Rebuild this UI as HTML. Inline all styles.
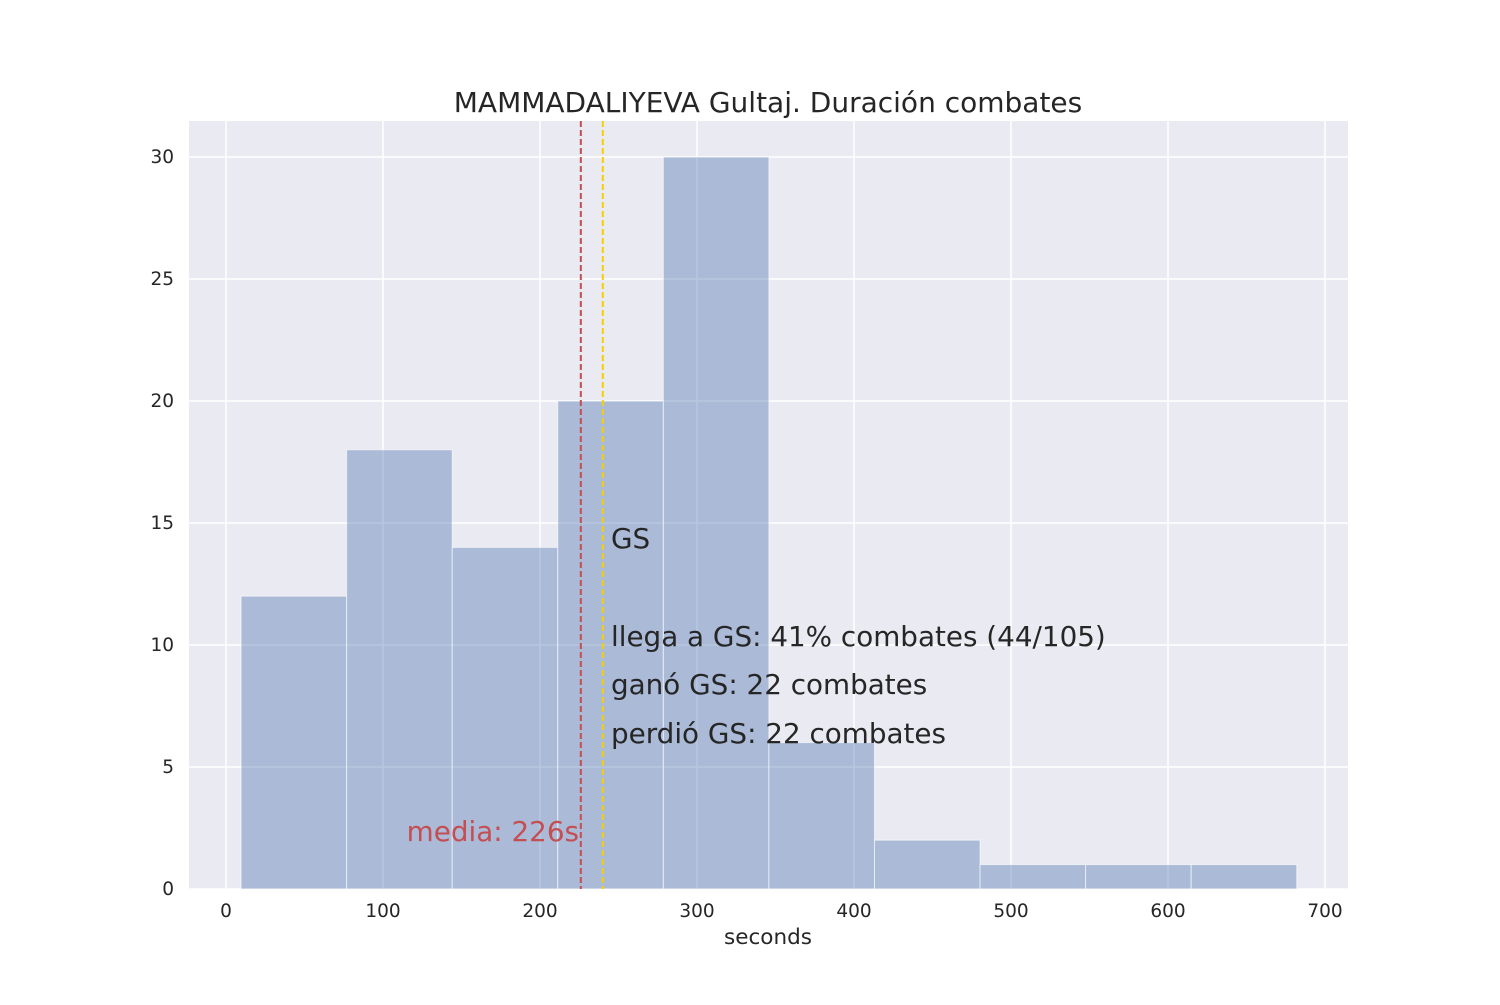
<!DOCTYPE html>
<html><head><meta charset="utf-8"><style>
body{margin:0;background:#fff;}
svg text{font-family:"DejaVu Sans","Liberation Sans",sans-serif;}
</style></head><body>
<svg id="chart" width="1500" height="1000" xmlns="http://www.w3.org/2000/svg">
<rect x="189" y="121" width="1159" height="768" fill="#eaeaf2"/>
<g id="grid"></g>
<g id="bars"></g>
<g id="ticks"></g>
<text x="768" y="112" text-anchor="middle" font-size="28" fill="#262626">MAMMADALIYEVA Gultaj. Duración combates</text>
<text x="768" y="944" text-anchor="middle" font-size="21.5" fill="#262626">seconds</text>
<g id="lines"></g>
<text x="611" y="548" font-size="27.8" fill="#262626">GS</text>
<text x="611" y="646" font-size="27.8" fill="#262626">llega a GS: 41% combates (44/105)</text>
<text x="611" y="694" font-size="27.8" fill="#262626">ganó GS: 22 combates</text>
<text x="611" y="743" font-size="27.8" fill="#262626">perdió GS: 22 combates</text>
<text x="579" y="841" text-anchor="end" font-size="27.8" fill="#c44e52">media: 226s</text>
</svg>
<script>
const binStart = 9.6;
const binWidth = 67.24;
const counts = [12,18,14,20,30,6,2,1,1,1];
const xTicks = [0,100,200,300,400,500,600,700];
const yTicks = [0,5,10,15,20,25,30];
const meanValue = 226;
const gsValue = 240;
const NS="http://www.w3.org/2000/svg";
const xs=v=>226+v*1.57;
const ys=v=>889-v*24.4;
function mk(tag,attrs,parent){const e=document.createElementNS(NS,tag);for(const k in attrs)e.setAttribute(k,attrs[k]);document.getElementById(parent).appendChild(e);return e;}
xTicks.forEach(t=>{
 const l=mk('line',{x1:xs(t),x2:xs(t),y1:121,y2:889,stroke:'#fff','stroke-width':1.5},'grid');
 
 
 const tx=mk('text',{x:xs(t),y:917,'text-anchor':'middle','font-size':18.5,fill:'#262626'},'ticks');
 tx.textContent=t;
 
 
});
yTicks.forEach(t=>{
 const l=mk('line',{x1:189,x2:1348,y1:ys(t),y2:ys(t),stroke:'#fff','stroke-width':1.5},'grid');
 
 
 const tx=mk('text',{x:174,y:ys(t)+6,'text-anchor':'end','font-size':18.5,fill:'#262626'},'ticks');
 tx.textContent=t;
 
 
});
counts.forEach((c,i)=>{
 const x0=xs(binStart+i*binWidth),x1=xs(binStart+(i+1)*binWidth);
 const r=mk('rect',{x:x0,y:ys(c),width:x1-x0,height:ys(0)-ys(c),fill:'#4c72b0','fill-opacity':0.4,stroke:'#fff','stroke-opacity':0.6,'stroke-width':1},'bars');
 
 
});
const m=mk('line',{x1:xs(meanValue),x2:xs(meanValue),y1:121,y2:889,stroke:'#c44e52','stroke-width':2,'stroke-dasharray':'6,3'},'lines');


const g=mk('line',{x1:xs(gsValue),x2:xs(gsValue),y1:121,y2:889,stroke:'#f5d000','stroke-width':2,'stroke-dasharray':'6,3'},'lines');


</script>
</body></html>
